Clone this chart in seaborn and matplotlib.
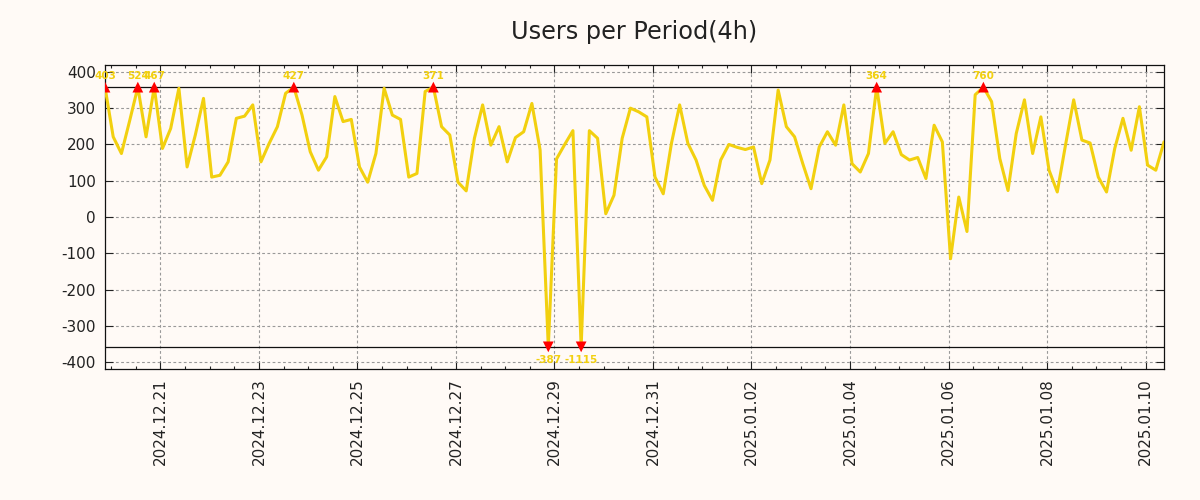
import numpy as np
import pandas as pd
import matplotlib
matplotlib.use("Agg")
import matplotlib.pyplot as plt
import matplotlib.dates as mdates
import seaborn as sns

# ---- data ----
START = "2024-12-19 21:00"
users = [403, 221, 175, 265, 524, 221, 467, 189, 244, 355,
         138, 226, 327, 110, 115, 152, 272, 278, 309, 152,
         203, 249, 341, 427, 281, 180, 129, 166, 332, 263,
         269, 138, 96, 175, 355, 281, 269, 110, 120, 346,
         371, 249, 226, 96, 72, 217, 309, 198, 249, 152,
         219, 235, 313, 185, -387, 160, 200, 238, -1115, 238,
         217, 9, 60, 217, 300, 290, 276, 110, 64, 203,
         309, 203, 157, 87, 46, 157, 200, 192, 186, 193,
         92, 157, 350, 249, 221, 147, 78, 193, 235, 198,
         309, 147, 124, 175, 364, 203, 235, 172, 157, 164,
         106, 253, 207, -115, 55, -40, 337, 760, 318, 161,
         73, 230, 323, 175, 276, 129, 69, 198, 323, 212,
         204, 110, 69, 189, 272, 184, 304, 143, 129, 207]
CLIP = 358
yticks = [-400, -300, -200, -100, 0, 100, 200, 300, 400]
title = "Users per Period(4h)"

times = pd.date_range(START, periods=len(users), freq="4h")
vals = np.array(users, dtype=float)
clipped = np.clip(vals, -CLIP, CLIP)
df = pd.DataFrame({"time": times, "value": clipped, "raw": vals})

BG = "#FFFAF6"
LINE = "#F2D00F"

sns.set_style("ticks")
plt.rcParams["font.family"] = ["DejaVu Sans"]

fig = plt.figure(figsize=(12, 5), dpi=100, facecolor=BG)
ax = fig.add_axes([0.0875, 0.262, 0.8825, 0.608])
ax.set_facecolor(BG)

sns.lineplot(data=df, x="time", y="value", color=LINE, linewidth=2.2, ax=ax, zorder=3)

ax.axhline(CLIP, color="#111111", linewidth=0.9, zorder=2)
ax.axhline(-CLIP, color="#111111", linewidth=0.9, zorder=2)

hi = df[df["raw"] > CLIP]
lo = df[df["raw"] < -CLIP]
sns.scatterplot(data=hi, x="time", y="value", marker="^", color="red", s=60,
                edgecolor="none", ax=ax, zorder=5, legend=False)
sns.scatterplot(data=lo, x="time", y="value", marker="v", color="red", s=60,
                edgecolor="none", ax=ax, zorder=5, legend=False)
for t, r in zip(hi["time"], hi["raw"]):
    ax.annotate(f"{int(r)}", (t, CLIP), xytext=(0, 4.5), textcoords="offset points",
                ha="center", va="bottom", fontsize=7.5, fontweight="bold", color=LINE, zorder=6)
for t, r in zip(lo["time"], lo["raw"]):
    ax.annotate(f"{int(r)}", (t, -CLIP), xytext=(0, -5.5), textcoords="offset points",
                ha="center", va="top", fontsize=7.5, fontweight="bold", color=LINE, zorder=6)

ax.set_xlim(times[0], times[-1])
ax.set_ylim(-419, 419)
ax.set_yticks(yticks)
ax.set_yticklabels([str(v) for v in yticks])

major = pd.date_range("2024-12-21", "2025-01-10", freq="2D")
ax.set_xticks(major)
ax.xaxis.set_major_formatter(mdates.DateFormatter("%Y.%m.%d"))
ax.xaxis.set_minor_locator(mdates.HourLocator(byhour=[0, 12]))

ax.tick_params(axis="both", which="major", direction="in", length=5.5, width=0.8,
               top=True, right=True, labelsize=11, colors="#222222", pad=6.5)
ax.tick_params(axis="x", which="minor", direction="in", length=2.5, width=0.8,
               top=True, bottom=True)
ax.tick_params(axis="x", which="major", labelrotation=90)

ax.grid(True, which="major", color="#999999", linestyle=(0, (2.5, 2.2)), linewidth=0.8, zorder=0)
for s in ax.spines.values():
    s.set_visible(True)
    s.set_color("#111111")
    s.set_linewidth(0.9)

ax.set_xlabel("")
ax.set_ylabel("")
ax.set_title(title, fontsize=17.3, color="#222222", pad=19)

fig.savefig("out.png", dpi=100, facecolor=BG)
